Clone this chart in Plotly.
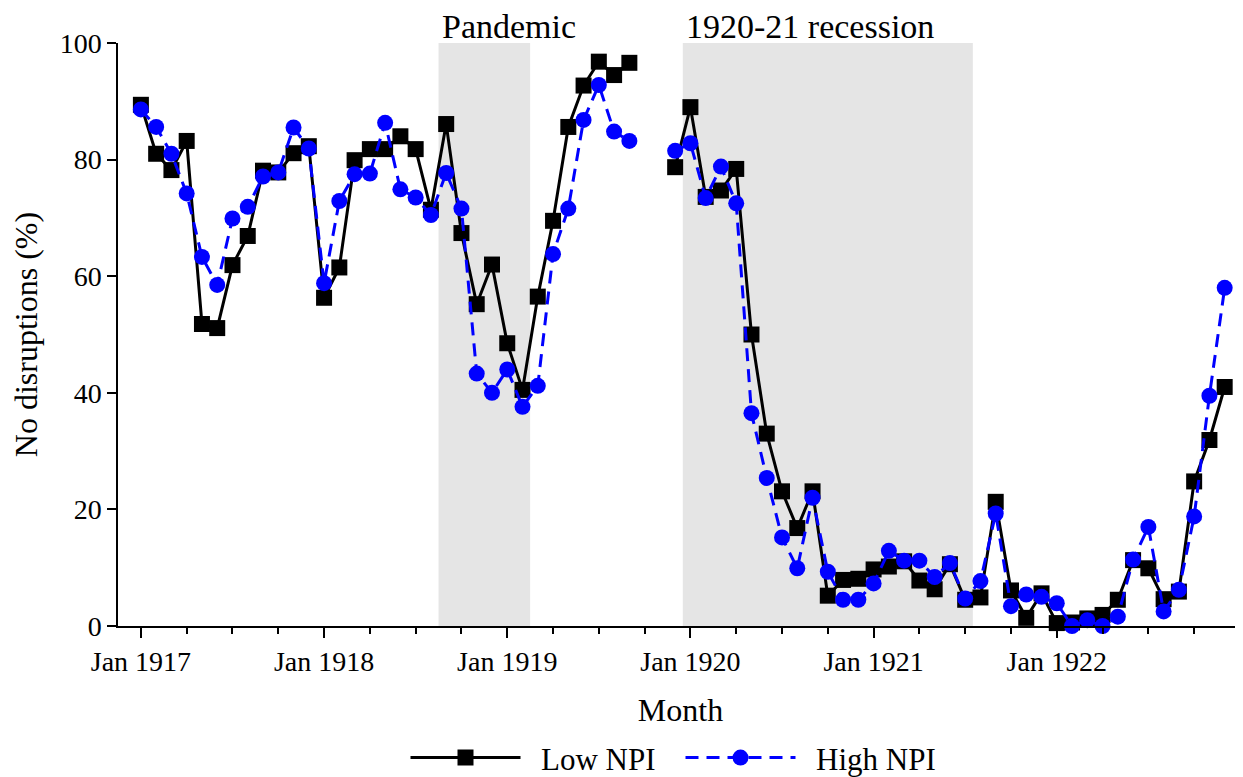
import plotly.graph_objects as go

# ---- data -------------------------------------------------------------
years = [1917, 1918, 1919, 1920, 1921, 1922]
month_labels = [f"{y}-{m:02d}" for y in years for m in range(1, 13)]

low_npi = [
    89.4, 81.0, 78.2, 83.2, 51.8, 51.1, 61.9, 66.9, 78.1, 77.8, 81.1, 82.3,   # 1917
    56.3, 61.5, 79.9, 81.8, 81.8, 84.0, 81.8, 71.4, 86.1, 67.4, 55.2, 62.0,   # 1918
    48.5, 40.5, 56.5, 69.5, 85.6, 92.7, 96.8, 94.5, 96.6, None, None, 78.7,   # 1919
    89.0, 73.6, 74.7, 78.4, 50.0, 33.0, 23.1, 16.8, 23.1, 5.2, 7.9, 8.1,      # 1920
    9.7, 10.2, 11.1, 7.8, 6.3, 10.6, 4.5, 4.9, 21.3, 6.1, 1.4, 5.6,           # 1921
    0.5, 0.6, 1.3, 1.9, 4.5, 11.3, 9.9, 4.6, 5.9, 24.8, 31.9, 41.0,           # 1922
]
high_npi = [
    88.6, 85.6, 81.0, 74.2, 63.3, 58.5, 69.9, 71.9, 77.1, 77.8, 85.5, 81.9,   # 1917
    58.8, 72.9, 77.5, 77.6, 86.3, 74.9, 73.5, 70.5, 77.7, 71.6, 43.3, 40.0,   # 1918
    44.0, 37.6, 41.2, 63.8, 71.6, 86.8, 92.8, 84.8, 83.2, None, None, 81.5,   # 1919
    82.8, 73.4, 78.8, 72.5, 36.5, 25.4, 15.2, 9.9, 22.0, 9.3, 4.5, 4.5,       # 1920
    7.3, 12.9, 11.2, 11.2, 8.4, 10.8, 4.7, 7.7, 19.3, 3.4, 5.4, 5.0,          # 1921
    3.9, 0.0, 1.0, 0.0, 1.6, 11.4, 17.0, 2.5, 6.2, 18.8, 39.5, 58.0,          # 1922
]

period_names = ["Pandemic", "1920-21 recession"]
period_first = ["1918-09", "1920-01"]   # first month inside the period
period_last = ["1919-02", "1921-07"]    # last month inside the period

y_ticks = [0, 20, 40, 60, 80, 100]
x_tick_labels = [f"Jan {y}" for y in years]

# ---- figure -----------------------------------------------------------
x_idx = list(range(len(month_labels)))
FONT = "Liberation Serif"
GAP = "\u2002"  # small gap between legend symbol and its text

fig = go.Figure()

fig.add_trace(go.Scatter(
    x=x_idx, y=low_npi, name=GAP + "Low NPI", mode="lines+markers",
    line=dict(color="black", width=3),
    marker=dict(symbol="square", size=16, color="black"),
    connectgaps=False, cliponaxis=False,
))
fig.add_trace(go.Scatter(
    x=x_idx, y=high_npi, name=GAP + "High NPI", mode="lines+markers",
    line=dict(color="#0000ff", width=3, dash="13px,8px"),
    marker=dict(symbol="circle", size=16, color="#0000ff"),
    connectgaps=False, cliponaxis=False,
))

for name, a, b in zip(period_names, period_first, period_last):
    x0 = month_labels.index(a) - 0.5
    x1 = month_labels.index(b) + 0.5
    fig.add_shape(type="rect", xref="x", yref="paper", x0=x0, x1=x1, y0=0, y1=1,
                  fillcolor="#e5e5e5", line=dict(width=0), layer="below")
    fig.add_annotation(x=x0, y=1, xref="x", yref="paper", text=name,
                       showarrow=False, xanchor="left", yanchor="bottom",
                       xshift=1, yshift=-4,
                       font=dict(family=FONT, size=34, color="black"))

# the page body adds an 8px margin, so the figure is sized to fit the window
fig.update_layout(
    width=1235, height=769,
    margin=dict(l=110, r=0, t=35, b=151, autoexpand=False),
    plot_bgcolor="white", paper_bgcolor="white",
    font=dict(family=FONT, size=28, color="black"),
    showlegend=True,
    legend=dict(orientation="h", x=0.5, xanchor="center", y=-0.18, yanchor="top",
                font=dict(family=FONT, size=31), itemwidth=110,
                entrywidth=150, entrywidthmode="pixels",
                traceorder="normal"),
)

fig.update_xaxes(
    range=[-1.5, 72.2],
    tickmode="array",
    tickvals=[month_labels.index(f"{y}-01") for y in years],
    ticktext=x_tick_labels,
    ticks="outside", ticklen=10, tickwidth=1.5, tickcolor="black",
    showline=True, linecolor="black", linewidth=1.5,
    showgrid=False, zeroline=False,
    tickfont=dict(family=FONT, size=28),
    title=dict(text="Month", font=dict(family=FONT, size=32), standoff=22),
    minor=dict(tickmode="linear", tick0=0, dtick=3, ticks="outside",
               ticklen=6, tickwidth=1.5, tickcolor="black", showgrid=False),
)
fig.update_yaxes(
    range=[0, 100],
    tickmode="array", tickvals=y_ticks,
    ticks="outside", ticklen=9, tickwidth=1.5, tickcolor="black",
    showline=True, linecolor="black", linewidth=1.5,
    showgrid=False, zeroline=False,
    tickfont=dict(family=FONT, size=28),
    title=dict(text="No disruptions (%)", font=dict(family=FONT, size=32), standoff=14),
)

fig.write_html("out.html")
